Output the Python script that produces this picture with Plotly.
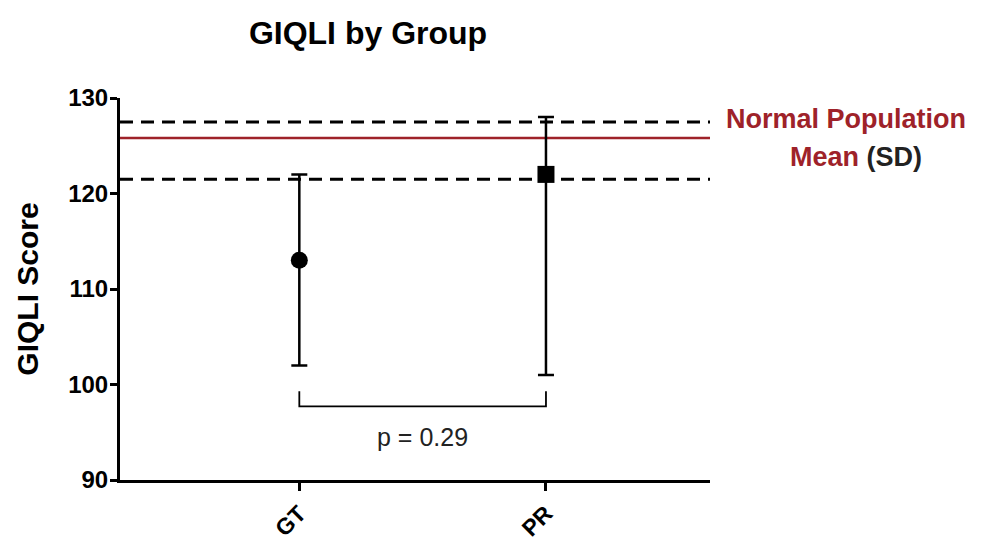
import plotly.graph_objects as go

# ---- data ----
groups = ["GT", "PR"]
group_pos = [0, 1]
means = [113, 122]
err_low = [102, 101]
err_high = [122, 128]
symbols = ["circle", "square"]

normal_mean = 125.8
normal_sd_low = 121.5
normal_sd_high = 127.5

bracket_y = 97.7
bracket_leg_top = 99.3
p_text = "p = 0.29"
p_text_y = 94.5

y_ticks = [90, 100, 110, 120, 130]

FONT = "Liberation Sans, Arial, sans-serif"
DARKRED = "#9e2229"

x_span = [-0.727, 1.665]

fig = go.Figure()

# reference lines (drawn across full x range)
for yv, dash, color, w in [(normal_sd_high, "13px,8px", "black", 3),
                           (normal_mean, "solid", DARKRED, 2.5),
                           (normal_sd_low, "13px,8px", "black", 3)]:
    fig.add_trace(go.Scatter(x=x_span, y=[yv, yv], mode="lines",
                             line=dict(color=color, width=w, dash=dash),
                             hoverinfo="skip", showlegend=False))

# points with error bars
for p, m, lo, hi, s in zip(group_pos, means, err_low, err_high, symbols):
    fig.add_trace(go.Scatter(
        x=[p], y=[m], mode="markers",
        marker=dict(symbol=s, size=17, color="black"),
        error_y=dict(type="data", symmetric=False, array=[hi - m], arrayminus=[m - lo],
                     color="black", thickness=2.5, width=8),
        showlegend=False))

# significance bracket
fig.add_trace(go.Scatter(
    x=[group_pos[0], group_pos[0], group_pos[1], group_pos[1]],
    y=[bracket_leg_top, bracket_y, bracket_y, bracket_leg_top],
    mode="lines", line=dict(color="black", width=1.8), showlegend=False, hoverinfo="skip"))

fig.add_annotation(x=sum(group_pos) / 2, y=p_text_y, xref="x", yref="y", text=p_text,
                   showarrow=False, font=dict(family=FONT, size=25, color="#222"))

# legend-like text at right
fig.add_annotation(xref="paper", yref="y", x=(846 - 120) / 590, xanchor="center", y=127.75,
                   text="Normal Population", showarrow=False,
                   font=dict(family=FONT, size=27, color=DARKRED, weight="bold"))
fig.add_annotation(xref="paper", yref="y", x=(856 - 120) / 590, xanchor="center", y=123.85,
                   text="Mean <span style='color:#222'>(SD)</span>", showarrow=False,
                   font=dict(family=FONT, size=27, color=DARKRED, weight="bold"))

# page body adds ~8px offset, so margins are set relative to that
fig.update_layout(
    width=981, height=544,
    margin=dict(l=112, r=279, t=90, b=72),
    paper_bgcolor="white", plot_bgcolor="white",
    title=dict(text="GIQLI by Group", x=360 / 981, xanchor="center",
               y=1 - 25 / 544, yanchor="middle",
               font=dict(family=FONT, size=32, color="black", weight="bold")),
    font=dict(family=FONT, color="black"),
)
fig.update_xaxes(range=x_span, tickvals=group_pos, ticktext=groups,
                 showline=True, linecolor="black", linewidth=3,
                 ticks="outside", ticklen=8, tickwidth=3, tickcolor="black",
                 tickangle=-45, tickfont=dict(family=FONT, size=23, color="black", weight="bold"),
                 showgrid=False, zeroline=False, automargin=False)
fig.update_yaxes(range=[90, 130], tickvals=y_ticks, showline=True, linecolor="black", linewidth=3,
                 ticks="outside", ticklen=7, tickwidth=3, tickcolor="black",
                 ticklabelstandoff=-3,
                 tickfont=dict(family=FONT, size=24, color="black", weight="bold"),
                 title=dict(text="GIQLI Score",
                            font=dict(family=FONT, size=30, color="black", weight="bold"),
                            standoff=21),
                 showgrid=False, zeroline=False, automargin=False)

fig.write_html("out.html")
